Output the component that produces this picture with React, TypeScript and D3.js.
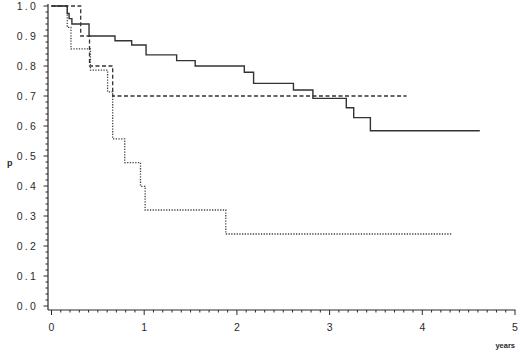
import React from "react";
import * as d3 from "d3";

const solidTimes = [0, 0.17, 0.19, 0.22, 0.405, 0.685, 0.865, 1.02, 1.35, 1.55, 2.08, 2.18, 2.61, 2.82, 3.18, 3.26, 3.44, 4.62];
const solidSurv = [1, 0.975, 0.958, 0.94, 0.9, 0.884, 0.87, 0.837, 0.818, 0.8, 0.779, 0.742, 0.72, 0.692, 0.661, 0.628, 0.584, 0.584];
const dashedTimes = [0, 0.315, 0.41, 0.66, 3.83];
const dashedSurv = [1, 0.9, 0.8, 0.7, 0.7];
const dottedTimes = [0, 0.17, 0.21, 0.42, 0.605, 0.66, 0.79, 0.96, 1.01, 1.88, 4.32];
const dottedSurv = [1, 0.929, 0.857, 0.786, 0.714, 0.557, 0.478, 0.399, 0.32, 0.24, 0.24];

const yTickLabels = ["0.0", "0.1", "0.2", "0.3", "0.4", "0.5", "0.6", "0.7", "0.8", "0.9", "1.0"];
const xTickLabels = ["0", "1", "2", "3", "4", "5"];

const W = 520;
const H = 356;

export default function App() {
  const x = d3.scaleLinear().domain([0, 5]).range([51.5, 515]);
  const y = d3.scaleLinear().domain([0, 1]).range([306, 6]);
  const line = d3
    .line<[number, number]>()
    .x((d) => x(d[0]))
    .y((d) => y(d[1]))
    .curve(d3.curveStepAfter);

  const mk = (t: number[], s: number[]) => line(t.map((v, i) => [v, s[i]] as [number, number])) || "";

  const yMinor = d3.range(0, 51).map((i) => i / 50);
  const xMinor = d3.range(0, 51).map((i) => i / 10);
  const axisX = 48;
  const axisY = 310;
  const col = "#2a2a2a";
  const font = "'Liberation Sans', Arial, sans-serif";

  return (
    <svg width={W} height={H} style={{ position: "absolute", left: 0, top: 0, background: "#fff" }}>
      {/* y axis */}
      <line x1={axisX} x2={axisX} y1={4} y2={axisY} stroke={col} strokeWidth={1.2} />
      {yMinor.map((v, i) => (
        <line
          key={"ym" + i}
          x1={axisX - (i % 5 === 0 ? 4.5 : 2.5)}
          x2={axisX}
          y1={y(v)}
          y2={y(v)}
          stroke={col}
          strokeWidth={1}
        />
      ))}
      {yTickLabels.map((l, i) => (
        <text
          key={"yl" + i}
          x={38}
          y={y(+l) + 4}
          textAnchor="end"
          fontFamily={font}
          fontSize={10.5}
          letterSpacing={2.2}
          fill={col}
        >
          {l}
        </text>
      ))}
      <text x={7} y={166} fontFamily={font} fontSize={9} fontWeight="bold" fill={col}>
        p
      </text>
      {/* x axis */}
      <line x1={axisX} x2={515.5} y1={axisY} y2={axisY} stroke={col} strokeWidth={1.2} />
      {xMinor.map((v, i) => (
        <line
          key={"xm" + i}
          x1={x(v)}
          x2={x(v)}
          y1={axisY}
          y2={axisY + (i % 10 === 0 ? 5 : 2.5)}
          stroke={col}
          strokeWidth={1}
        />
      ))}
      {xTickLabels.map((l, i) => (
        <text
          key={"xl" + i}
          x={x(+l)}
          y={331}
          textAnchor="middle"
          fontFamily={font}
          fontSize={10.5}
          fill={col}
        >
          {l}
        </text>
      ))}
      <text x={515} y={348} textAnchor="end" fontFamily={font} fontSize={7.5} fontWeight="bold" fill={col}>
        years
      </text>
      {/* curves */}
      <path d={mk(dottedTimes, dottedSurv)} fill="none" stroke="#444" strokeWidth={1.3} strokeDasharray="1.3 1.4" />
      <path d={mk(dashedTimes, dashedSurv)} fill="none" stroke="#333" strokeWidth={1.3} strokeDasharray="4 2.5" />
      <path d={mk(solidTimes, solidSurv)} fill="none" stroke="#333" strokeWidth={1.4} />
    </svg>
  );
}
